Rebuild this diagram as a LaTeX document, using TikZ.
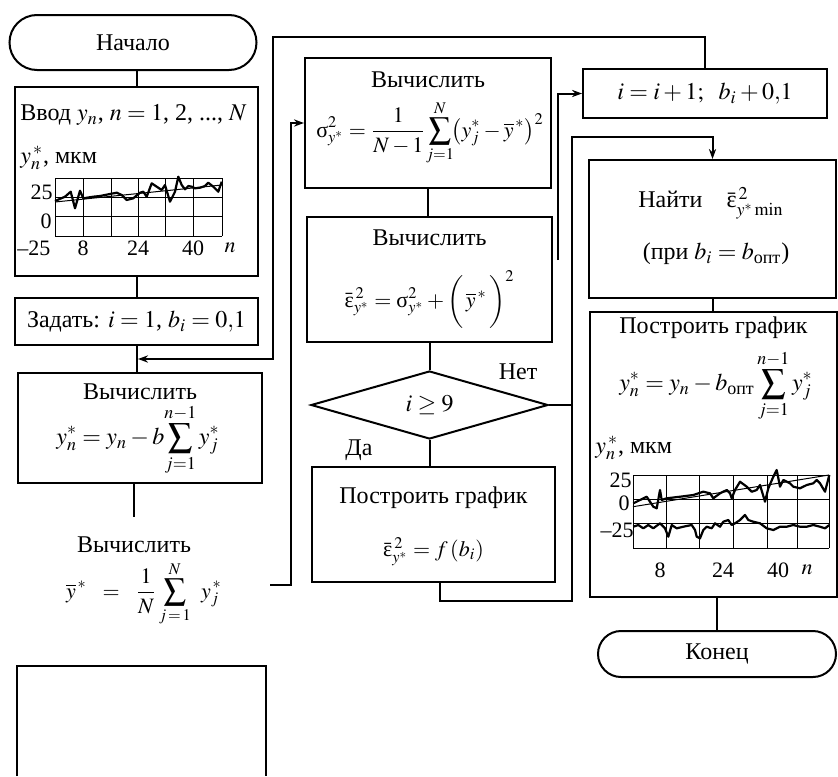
\documentclass[tikz,border=0pt]{standalone}
\usepackage{amsmath}
\usepackage{mathptmx}
\usepackage[no-math]{fontspec}
\setmainfont{Liberation Serif}
\usetikzlibrary{arrows.meta,shapes.geometric}
\newcommand{\gsig}{\text{σ}}
\newcommand{\geps}{\text{ε}}
\begin{document}
\begin{tikzpicture}[x=0.5pt,y=-0.5pt,
  every node/.style={font=\fontsize{12}{14}\selectfont, inner sep=0pt},
  bx/.style={draw, line width=1pt, rectangle},
  term/.style={draw, line width=1pt, rectangle},
  ln/.style={line width=1pt},
  arr/.style={line width=1pt, -{Stealth[length=5pt,width=3.6pt]}},
  gridl/.style={line width=0.5pt},
  crv/.style={line width=1.1pt, line join=round},
  trend/.style={line width=0.5pt},
  lbl/.style={font=\fontsize{11}{13}\selectfont},
  fml/.style={font=\fontsize{11}{13}\selectfont}
]
\useasboundingbox (0,0) rectangle (838,776);

% ---------- left column ----------
\node[term, minimum width=123.5pt, minimum height=27.5pt, rounded corners=13.75pt] (start) at (133,42.5) {Начало};

\node[bx, minimum width=121.5pt, minimum height=94.5pt] (input) at (136.5,181.5) {};
\node[anchor=west] (intxt) at (20,115) {Ввод $y_n$, $n = 1$, 2, ..., $N$};
\node[anchor=west] (inunit) at (20,158) {$y^{\,*}_{n}$, мкм};
\foreach \x in {55,83,111,138,165,193,222} \draw[gridl] (\x,178) -- (\x,236);
\foreach \y in {178,197.3,216.7,236} \draw[gridl] (55,\y) -- (222,\y);
\node[lbl, anchor=east] (la25) at (53,192) {25};
\node[lbl, anchor=east] (la0) at (52,221) {0};
\node[lbl, anchor=west] (lam25) at (17,248) {–25};
\node[lbl] (la8) at (83,248) {8};
\node[lbl] (la24) at (138,248) {24};
\node[lbl] (la40) at (193,248) {40};
\node[lbl] (lan) at (230,248) {$n$};
\draw[trend] (55,202) -- (222,185);
\draw[crv] (55,201) -- (65,196.7) -- (70.7,191.7) -- (75,208.3) -- (80,190.7) -- (83.3,198.3)
  -- (93.3,196.7) -- (100,196) -- (110,194) -- (116.7,192.7) -- (121.7,195) -- (126.7,200)
  -- (133.3,198.3) -- (140,192.7) -- (143.3,191.7) -- (146.7,196.7) -- (151.7,183.3)
  -- (156.7,186.7) -- (161.7,190) -- (165,185) -- (170,201.7) -- (175,191.7) -- (178.3,176.7)
  -- (181.7,185) -- (185,189.3) -- (188.3,186) -- (191.7,186.7) -- (195,188.3) -- (200,187.7)
  -- (205,186) -- (208.3,182.7) -- (213.3,186.7) -- (218.3,191.7) -- (221.7,181.7);

\node[bx, minimum width=121.5pt, minimum height=23.5pt] (set) at (136.5,321.5) {Задать: $i = 1$, $b_i = 0{,}1$};

\node[bx, minimum width=122pt, minimum height=55pt] (calcy) at (140,428) {};
\node (calcyt) at (140,392) {Вычислить};
\node (calcyf) at (138,440) {$\displaystyle y^*_n = y_n - b\!\sum_{j=1}^{n-1} y^*_j$};

\node (ybart) at (134,545) {Вычислить};
\node[fml] (ybarf) at (144,594) {$\displaystyle \overline{y}^{\,*} \ \ =\ \ \frac{1}{N}\sum_{j\,=\,1}^{N}\ \, y^{\,*}_{j}$};
\coordinate (ybarin) at (134,517);
\coordinate (ybarout) at (270,585);
\coordinate (c1) at (291,585);

\draw[ln] (17,776) -- (17,666) -- (266,666) -- (266,776);

% ---------- middle column ----------
\node[bx, minimum width=123pt, minimum height=65pt] (sigma) at (428,123) {};
\node (sigmat) at (428,80) {Вычислить};
\node[fml] (sigmaf) at (430,133) {$\displaystyle \gsig^2_{y^*} = \frac{1}{N-1}\!\sum_{j=1}^{N}\!\bigl(y^*_j - \overline{y}^{\,*}\bigr)^2$};

\node[bx, minimum width=122.5pt, minimum height=62.5pt] (eps) at (429.5,279.5) {};
\node (epst) at (429.5,238) {Вычислить};
\node[fml] (epsf) at (429.5,300) {$\displaystyle \bar{\geps}^{\,2}_{y^*} = \gsig^2_{y^*} + \left(\vphantom{\frac{1}{N_j}}\,\overline{y}^{\,*}\,\right)^2$};

\node[draw, diamond, line width=1pt, minimum width=118.5pt, minimum height=34pt, inner sep=0pt] (dia) at (429.5,405) {$i \geq 9$};
\node (net) at (518,372) {Нет};
\node (da) at (359,450) {Да};

\node[bx, minimum width=121.5pt, minimum height=57.5pt] (fbox) at (433.5,524.5) {};
\node (fboxt) at (433.5,498) {Построить график};
\node[fml] (fboxf) at (433.5,552) {$\bar{\geps}^{\,2}_{y^*} = f\,(b_i)$};

% ---------- right column ----------
\node[bx, minimum width=122pt, minimum height=24.5pt] (inc) at (705,93.5) {$i = i + 1;\ \ b_i + 0{,}1$};

\node[bx, minimum width=123.5pt, minimum height=69pt] (find) at (712.5,229) {};
\node (findt) at (711,203) {Найти\quad $\bar{\geps}^{\,2}_{y^*\,\mathrm{min}}$};
\node (findb) at (716,254) {(при $b_i = b_{\text{опт}}$)};

\node[bx, minimum width=123.5pt, minimum height=142.5pt] (plot) at (713.5,454.5) {};
\node (plott) at (713.5,328) {Построить график};
\node (plotf) at (716,386) {$\displaystyle y^*_n = y_n - b_{\text{опт}}\sum_{j=1}^{n-1} y^*_j$};
\node[anchor=west] (plotu) at (595,448) {$y^{\,*}_{n}$, мкм};
\foreach \x in {633,666,699,733,767,797,829} \draw[gridl] (\x,475) -- (\x,548);
\foreach \y in {475,499.3,523.7,548} \draw[gridl] (633,\y) -- (829,\y);
\node[lbl, anchor=east] (lb25) at (632,480) {25};
\node[lbl, anchor=east] (lb0) at (630,503) {0};
\node[lbl, anchor=east] (lbm25) at (634,530) {–25};
\node[lbl] (lb8) at (660,570) {8};
\node[lbl] (lb24) at (723,570) {24};
\node[lbl] (lb40) at (778,570) {40};
\node[lbl] (lbn) at (807,570) {$n$};
\draw[trend] (633,506.7) -- (829,475);
\draw[crv] (633.3,503.3) -- (640,500) -- (646.7,496.7) -- (653.3,506.7) -- (656.7,508.3) -- (660,490)
  -- (661.7,500) -- (666.7,498.3) -- (680,496.7) -- (693.3,495) -- (703.3,491.7) -- (710,493.3)
  -- (713.3,498.3) -- (720,493.3) -- (726.7,490) -- (730,493.3) -- (731.7,498.3) -- (735,490)
  -- (740,481.7) -- (746.7,486.7) -- (751.7,491.7) -- (756.7,490) -- (760,485) -- (765,501.7)
  -- (768.3,488.3) -- (773.3,476.7) -- (776.7,470) -- (780,486.7) -- (783.3,480) -- (790,483.3)
  -- (793.3,486.7) -- (800,488.3) -- (806.7,485) -- (813.3,483.3) -- (816.7,480) -- (820,483.3)
  -- (825,491.7) -- (829.3,475);
\draw[crv] (633.3,526.7) -- (638.3,525) -- (643.3,528.3) -- (648.3,525) -- (653.3,528.3) -- (660,523.3)
  -- (665,528.3) -- (668.3,536.7) -- (671.7,525) -- (676.7,528.3) -- (683.3,526.7) -- (691.7,525)
  -- (695,530) -- (696.7,536.7) -- (700,538.3) -- (703.3,530) -- (706.7,526.7) -- (711.7,528.3)
  -- (715,523.3) -- (720,526.7) -- (723.3,521.7) -- (728.3,520) -- (731.7,525) -- (735,523.3)
  -- (740,520) -- (745,515) -- (748.3,520) -- (753.3,521.7) -- (760,523.3) -- (766.7,528.3)
  -- (773.3,530) -- (780,526.7) -- (786.7,526.7) -- (793.3,525) -- (800,526.7) -- (806.7,526.7)
  -- (813.3,525) -- (820,526.7) -- (825,528.3) -- (829.3,525);

\node[term, minimum width=119pt, minimum height=23pt, rounded corners=11.5pt] (end) at (717,654) {Конец};

% ---------- connectors ----------
\coordinate (tl) at (273,37);
\coordinate (loopin) at (138,359);
\coordinate (rv) at (572,405);
\coordinate (fb) at (440,601);
\coordinate (fbr) at (572,601);
\coordinate (fbt) at (572,137);
\coordinate (nofree) at (558,260);

\draw[ln] (start.south -| input.south) -- (input.north);
\draw[ln] (input.south) -- (set.north);
\draw[ln] (set.south) -- (set.south |- calcy.north);
\draw[arr] (inc.north) |- (tl) |- (loopin);
\draw[ln] (calcy.south -| ybarin) -- (ybarin);
\draw[arr] (ybarout) -- (c1) |- (sigma.west);
\draw[ln] (sigma.south) -- (sigma.south |- eps.north);
\draw[ln] (eps.south) -- (dia.north);
\draw[ln] (dia.south) -- (dia.south |- fbox.north);
\draw[ln] (dia.east) -- (rv);
\draw[arr] (fbox.south -| fb) -- (fb) -- (fbr) -- (fbt) -| (find.north);
\draw[arr] (nofree) |- (inc.west);
\draw[ln] (find.south) -- (find.south |- plot.north);
\draw[ln] (plot.south -| end.north) -- (end.north);
\end{tikzpicture}
\end{document}
